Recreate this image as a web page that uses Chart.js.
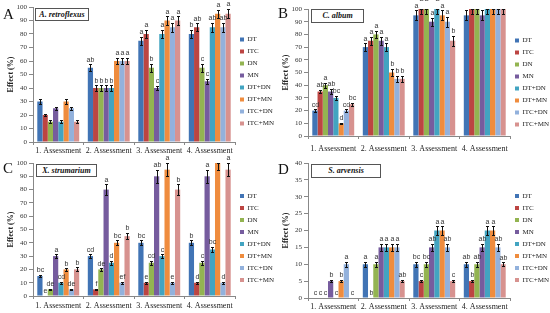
<!DOCTYPE html>
<html>
<head>
<meta charset="utf-8">
<script src="https://cdn.jsdelivr.net/npm/chart.js@4.4.1/dist/chart.umd.min.js"></script>
<style>
    body {margin: 0; background: #fff; width: 550px; height: 313px; overflow: hidden; position: relative; font-family: "Liberation Serif", serif;}
    .panel {position: absolute; width: 275px;}
    .panel canvas {position: absolute; left: 0; top: 0;}
    .letter {position: absolute; font-size: 15px; color: #111; line-height: 1;}
    .tag {position: absolute; box-sizing: border-box; border: 1px solid #555; background: #fff; color: #111;
        font: italic bold 8px "Liberation Serif", serif; text-align: center;}
</style>
</head>
<body>
<div class="panel" id="pA" style="left:0;top:0;height:156px"><canvas id="chartA" width="275" height="156"></canvas></div>
<div class="panel" id="pB" style="left:275px;top:0;height:156px"><canvas id="chartB" width="275" height="156"></canvas></div>
<div class="panel" id="pC" style="left:0;top:156px;height:157px"><canvas id="chartC" width="275" height="157"></canvas></div>
<div class="panel" id="pD" style="left:275px;top:156px;height:157px"><canvas id="chartD" width="275" height="157"></canvas></div>
<script>
const categories = ['1. Assessment', '2. Assessment', '3. Assessment', '4. Assessment'];
const seriesNames = ['DT', 'ITC', 'DN', 'MN', 'DT+DN', 'DT+MN', 'ITC+DN', 'ITC+MN'];

// one row per assessment, values in series order
const aValues = [
    [30, 20, 15, 25, 15, 30, 25, 15],
    [55, 40, 40, 40, 40, 60, 60, 60],
    [75, 80, 55, 40, 80, 90, 85, 90],
    [80, 85, 55, 45, 85, 95, 85, 95]
];
const aErrors = [
    [1.5, 1, 1, 1.2, 1, 1.5, 1.2, 1],
    [2.5, 2, 2, 2, 2, 2.5, 2.5, 2.5],
    [3, 3, 3, 1.5, 3, 3, 3.5, 3],
    [3, 3, 3, 2, 3.5, 3, 3.5, 3.5]
];
const aLetters = [
    ['', '', '', '', '', '', '', ''],
    ['ab', 'b', 'b', 'b', 'b', 'a', 'a', 'a'],
    ['a', 'a', 'b', 'c', 'a', 'a', 'a', 'a'],
    ['b', 'ab', 'c', 'c', 'ab', 'a', 'ab', 'a']
];

const bValues = [
    [20, 35, 40, 35, 30, 10, 20, 25],
    [70, 75, 80, 75, 70, 50, 45, 45],
    [95, 100, 100, 90, 100, 95, 90, 75],
    [95, 100, 100, 95, 100, 100, 100, 100]
];
const bErrors = [
    [1, 1.5, 2, 2, 1.5, 0.5, 1.2, 1.2],
    [3, 3, 3, 3, 3, 3, 2.5, 2.5],
    [4, 4, 4, 3, 4, 4, 4, 4],
    [4, 4, 4, 4, 4, 4, 4, 4]
];
const bLetters = [
    ['cd', 'ab', 'a', 'ab', 'bc', 'd', 'cd', 'bc'],
    ['a', 'a', 'a', 'a', 'a', 'b', 'b', 'b'],
    ['a', 'a', 'a', 'a', 'a', 'a', 'a', 'b'],
    ['', '', '', '', '', '', '', '']
];

const cValues = [
    [15, 0, 5, 30, 10, 20, 5, 20],
    [30, 5, 20, 80, 25, 40, 10, 45],
    [40, 10, 25, 90, 30, 95, 10, 80],
    [40, 10, 25, 90, 35, 100, 10, 95]
];
const cErrors = [
    [1, 0, 0.5, 1.5, 0.8, 1, 0.5, 1.5],
    [1.5, 0.5, 1, 4, 1.5, 2, 0.8, 2.5],
    [2, 0.8, 1.5, 5, 1.5, 5, 0.8, 4],
    [2, 0.8, 1.5, 5, 2, 5, 0.8, 5]
];
const cLetters = [
    ['bc', 'e', 'de', 'a', 'cd', 'b', 'de', 'b'],
    ['cd', 'f', 'de', 'a', 'd', 'bc', 'ef', 'b'],
    ['bc', 'e', 'cd', 'ab', 'c', 'a', 'e', 'b'],
    ['b', 'd', 'c', 'a', 'bc', 'a', 'd', 'a']
];

const dValues = [
    [0, 0, 0, 5, 0, 5, 10, 0],
    [10, 0, 10, 15, 15, 15, 15, 5],
    [10, 5, 10, 15, 20, 20, 15, 5],
    [10, 5, 10, 15, 20, 20, 15, 10]
];
const dErrors = [
    [0, 0, 0, 0.4, 0, 0.4, 0.7, 0],
    [0.7, 0, 0.7, 1, 1, 1, 1, 0.4],
    [0.7, 0.4, 0.7, 1, 1.2, 1.2, 1, 0.4],
    [0.7, 0.4, 0.7, 1, 1.2, 1.2, 1, 0.6]
];
const dLetters = [
    ['c', 'c', 'c', 'b', 'c', 'b', 'a', 'c'],
    ['a', 'b', 'a', 'a', 'a', 'a', 'a', 'ab'],
    ['bc', 'c', 'bc', 'ab', 'a', 'a', 'ab', 'c'],
    ['ab', 'b', 'ab', 'ab', 'a', 'a', 'ab', 'ab']
];

const colors = ['#4174b5', '#bc4542', '#93b451', '#765c9e', '#42a4c1', '#ef8c3e', '#92b1dc', '#d7928f'];

// error bars and significance letters, drawn through the y scale
function barExtras(errors, letters, yMax) {
    return {
        id: 'barExtras',
        afterDatasetsDraw(chart) {
            const ctx = chart.ctx;
            const y = chart.scales.y;
            ctx.save();
            ctx.font = '7px "Liberation Sans", sans-serif';
            ctx.textAlign = 'center';
            ctx.textBaseline = 'bottom';
            chart.data.datasets.forEach((ds, si) => {
                chart.getDatasetMeta(si).data.forEach((bar, ci) => {
                    const v = ds.data[ci];
                    const e = errors[ci][si];
                    const x = Math.round(bar.x) + 0.5;
                    if (e > 0) {
                        const yHi = Math.round(y.getPixelForValue(Math.min(v + e, yMax))) + 0.5;
                        const yLo = Math.round(y.getPixelForValue(Math.max(v - e, 0))) + 0.5;
                        ctx.strokeStyle = '#111';
                        ctx.lineWidth = 1;
                        ctx.beginPath();
                        ctx.moveTo(x, yHi); ctx.lineTo(x, yLo);
                        ctx.moveTo(x - 1.5, yHi); ctx.lineTo(x + 1.5, yHi);
                        ctx.moveTo(x - 1.5, yLo); ctx.lineTo(x + 1.5, yLo);
                        ctx.stroke();
                    }
                    const t = letters[ci][si];
                    if (t) {
                        ctx.fillStyle = '#333';
                        ctx.fillText(t, x, y.getPixelForValue(v + e) - 1);
                    }
                });
            });
            ctx.restore();
        }
    };
}

function makePanel(p) {
    const panel = document.getElementById(p.panelId);
    const letter = document.createElement('div');
    letter.className = 'letter';
    letter.textContent = p.letter;
    letter.style.left = p.letterPos[0] + 'px';
    letter.style.top = p.letterPos[1] + 'px';
    panel.appendChild(letter);

    const datasets = seriesNames.map((name, si) => ({
        label: name,
        data: p.values.map(row => row[si]),
        backgroundColor: colors[si],
        borderWidth: 0,
        barPercentage: 1.0,
        categoryPercentage: 0.83
    }));

    new Chart(document.getElementById(p.canvasId), {
        type: 'bar',
        data: {labels: categories, datasets: datasets},
        options: {
            responsive: false,
            animation: false,
            devicePixelRatio: 1,
            layout: {padding: {top: p.top, left: 0, right: 0, bottom: 0}},
            plugins: {
                legend: {
                    position: 'right',
                    align: 'center',
                    maxWidth: 40,
                    labels: {
                        boxWidth: 4,
                        boxHeight: 4,
                        padding: 5,
                        color: '#222',
                        font: {family: '"Liberation Serif", serif', size: 7}
                    }
                },
                tooltip: {enabled: false}
            },
            scales: {
                x: {
                    grid: {drawOnChartArea: false, drawTicks: true, tickLength: 3, color: '#888'},
                    border: {color: '#888'},
                    ticks: {
                        color: '#222', padding: p.xPad, maxRotation: 0, minRotation: 0, autoSkip: false,
                        font: {family: '"Liberation Serif", serif', size: 8}
                    },
                    afterFit: s => { s.height = p.height - p.bottom; }
                },
                y: {
                    min: 0,
                    max: p.yMax,
                    ticks: {stepSize: p.yStep, color: '#333', padding: 2, font: {family: '"Liberation Serif", serif', size: 7}},
                    grid: {drawOnChartArea: false, drawTicks: true, tickLength: 4, color: '#888'},
                    border: {color: '#888'},
                    title: {
                        display: true,
                        text: 'Effect (%)',
                        color: '#222',
                        padding: {top: 6, bottom: 0},
                        font: {family: '"Liberation Serif", serif', size: 8, weight: 'bold'}
                    },
                    afterFit: s => { s.width = 33; }
                }
            }
        },
        plugins: [barExtras(p.errors, p.letters, p.yMax)]
    });

    const tag = document.createElement('div');
    tag.className = 'tag';
    tag.textContent = p.name;
    tag.style.left = p.tag[0] + 'px';
    tag.style.top = p.tag[1] + 'px';
    tag.style.width = p.tag[2] + 'px';
    tag.style.height = p.tag[3] + 'px';
    tag.style.lineHeight = (p.tag[3] - 2) + 'px';
    panel.appendChild(tag);
}

makePanel({panelId: 'pA', canvasId: 'chartA', letter: 'A', letterPos: [3, 7], name: 'A. retroflexus',
    values: aValues, errors: aErrors, letters: aLetters, yMax: 100, yStep: 10,
    height: 156, top: 7, bottom: 142, xPad: 1, tag: [35, 8, 54, 13]});
makePanel({panelId: 'pB', canvasId: 'chartB', letter: 'B', letterPos: [3, 6], name: 'C. album',
    values: bValues, errors: bErrors, letters: bLetters, yMax: 100, yStep: 10,
    height: 156, top: 9, bottom: 136, xPad: 5, tag: [36, 9, 53, 14]});
makePanel({panelId: 'pC', canvasId: 'chartC', letter: 'C', letterPos: [3, 5], name: 'X. strumarium',
    values: cValues, errors: cErrors, letters: cLetters, yMax: 100, yStep: 10,
    height: 157, top: 7, bottom: 140, xPad: 2, tag: [36, 8, 61, 13]});
makePanel({panelId: 'pD', canvasId: 'chartD', letter: 'D', letterPos: [3, 6], name: 'S. arvensis',
    values: dValues, errors: dErrors, letters: dLetters, yMax: 40, yStep: 5,
    height: 157, top: 7, bottom: 142, xPad: 1, tag: [36, 8, 70, 14]});
</script>
</body>
</html>
